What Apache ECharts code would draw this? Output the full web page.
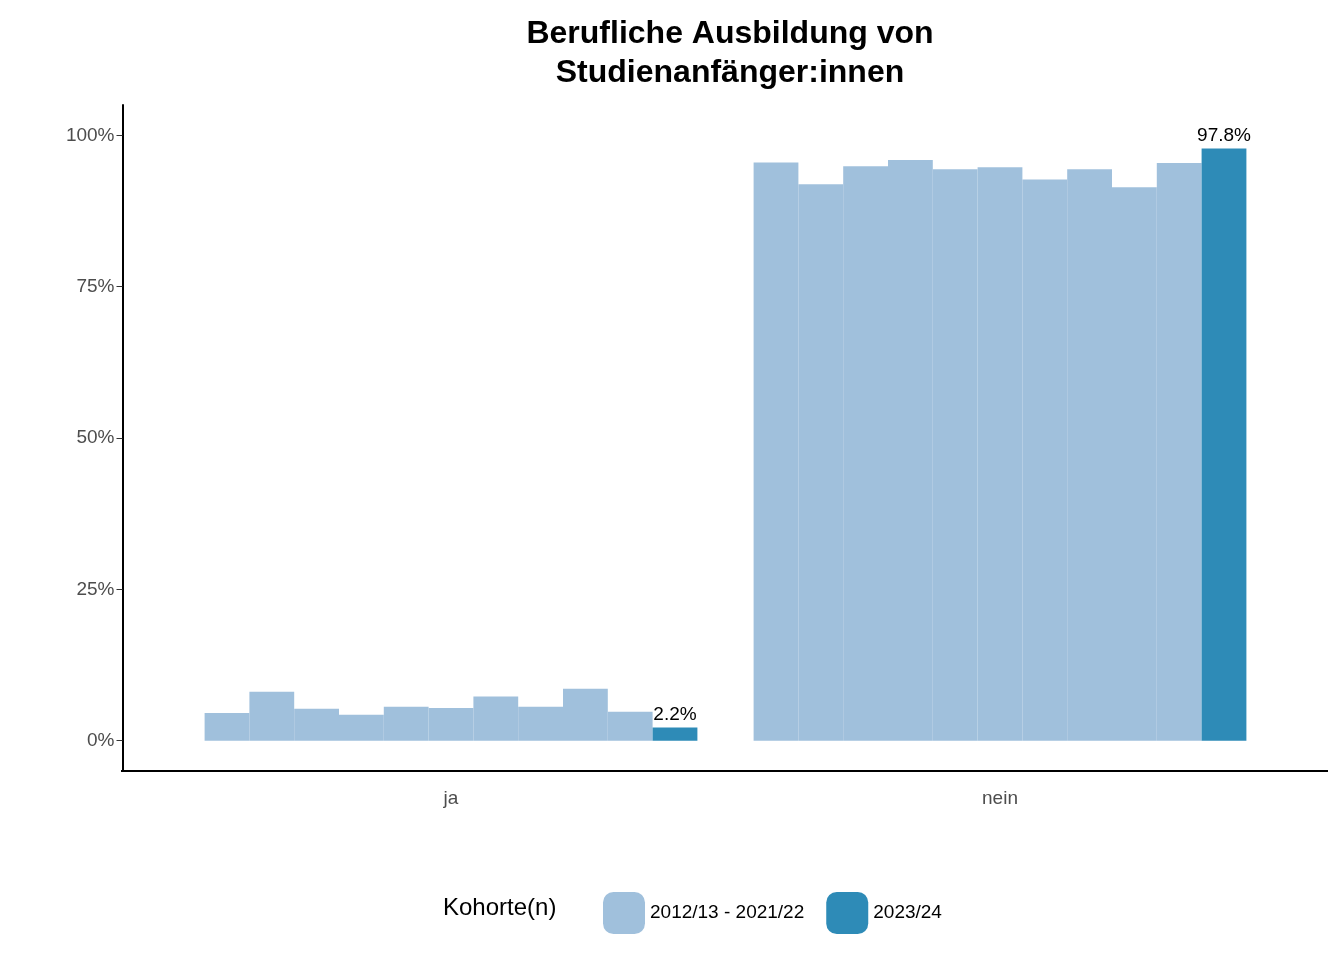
<!DOCTYPE html>
<html><head><meta charset="utf-8">
<script src="https://cdn.jsdelivr.net/npm/echarts@6/dist/echarts.min.js"></script>
<style>html,body{margin:0;padding:0;background:#fff}#c{width:1344px;height:960px}</style>
</head><body><div id="c"></div>
<script>
const categories = ['ja', 'nein'];
const histJa   = [4.6, 8.1, 5.3, 4.3, 5.6, 5.4, 7.3, 5.6, 8.6, 4.8];
const histNein = [95.5, 91.9, 94.9, 95.9, 94.4, 94.7, 92.7, 94.4, 91.4, 95.4];
const current = [2.2, 97.8];
const yTicks = [0, 25, 50, 75, 100];
const histName = '2012/13 - 2021/22', curName = '2023/24';

const series = [];
for (let i = 0; i < histJa.length; i++) {
  series.push({type:'bar', name:histName, data:[histJa[i], histNein[i]], barWidth:44.8, barGap:'0%',
    itemStyle:{color:'#a0c0dc'}, silent:true});
}
series.push({type:'bar', name:curName, data:current, barWidth:44.8, barGap:'0%',
  itemStyle:{color:'#2e8bb7'},
  label:{show:true, position:'top', distance:3, color:'#000', fontSize:19, fontFamily:'Liberation Sans',
    formatter:p=>p.value.toFixed(1)+'%'}});

const chart = echarts.init(document.getElementById('c'));
chart.setOption({
  animation:false,
  title:{text:'Berufliche Ausbildung von\nStudienanfänger:innen', left:725, top:10, textAlign:'center',
    textStyle:{fontSize:32, fontWeight:'bold', color:'#000', fontFamily:'Liberation Sans', lineHeight:39}},
  grid:{left:176.5, right:1344-1274.5, top:105, bottom:960-771},
  xAxis:{type:'category', data:categories, axisLine:{show:false}, axisTick:{show:false},
    axisLabel:{color:'#4d4d4d', fontSize:19, fontFamily:'Liberation Sans', margin:18}},
  yAxis:{type:'value', min:-5, max:105, offset:54, splitLine:{show:false},
    axisLine:{show:true, lineStyle:{color:'#000', width:2}},
    axisTick:{show:true, customValues:yTicks, length:6, lineStyle:{color:'#333'}},
    axisLabel:{customValues:yTicks, formatter:v=>v+'%', color:'#4d4d4d', fontSize:19, fontFamily:'Liberation Sans'}},
  legend:{data:[histName, curName], left:598, top:887, itemWidth:42, itemHeight:42, itemGap:22,
    textStyle:{fontSize:19, color:'#000', fontFamily:'Liberation Sans'}},
  graphic:[
    {type:'line', shape:{x1:121, y1:771, x2:1328, y2:771}, style:{stroke:'#000', lineWidth:2}},
    {type:'text', left:443, top:896, style:{text:'Kohorte(n)', fontSize:24, fill:'#000', fontFamily:'Liberation Sans'}}
  ],
  series
});
</script></body></html>
